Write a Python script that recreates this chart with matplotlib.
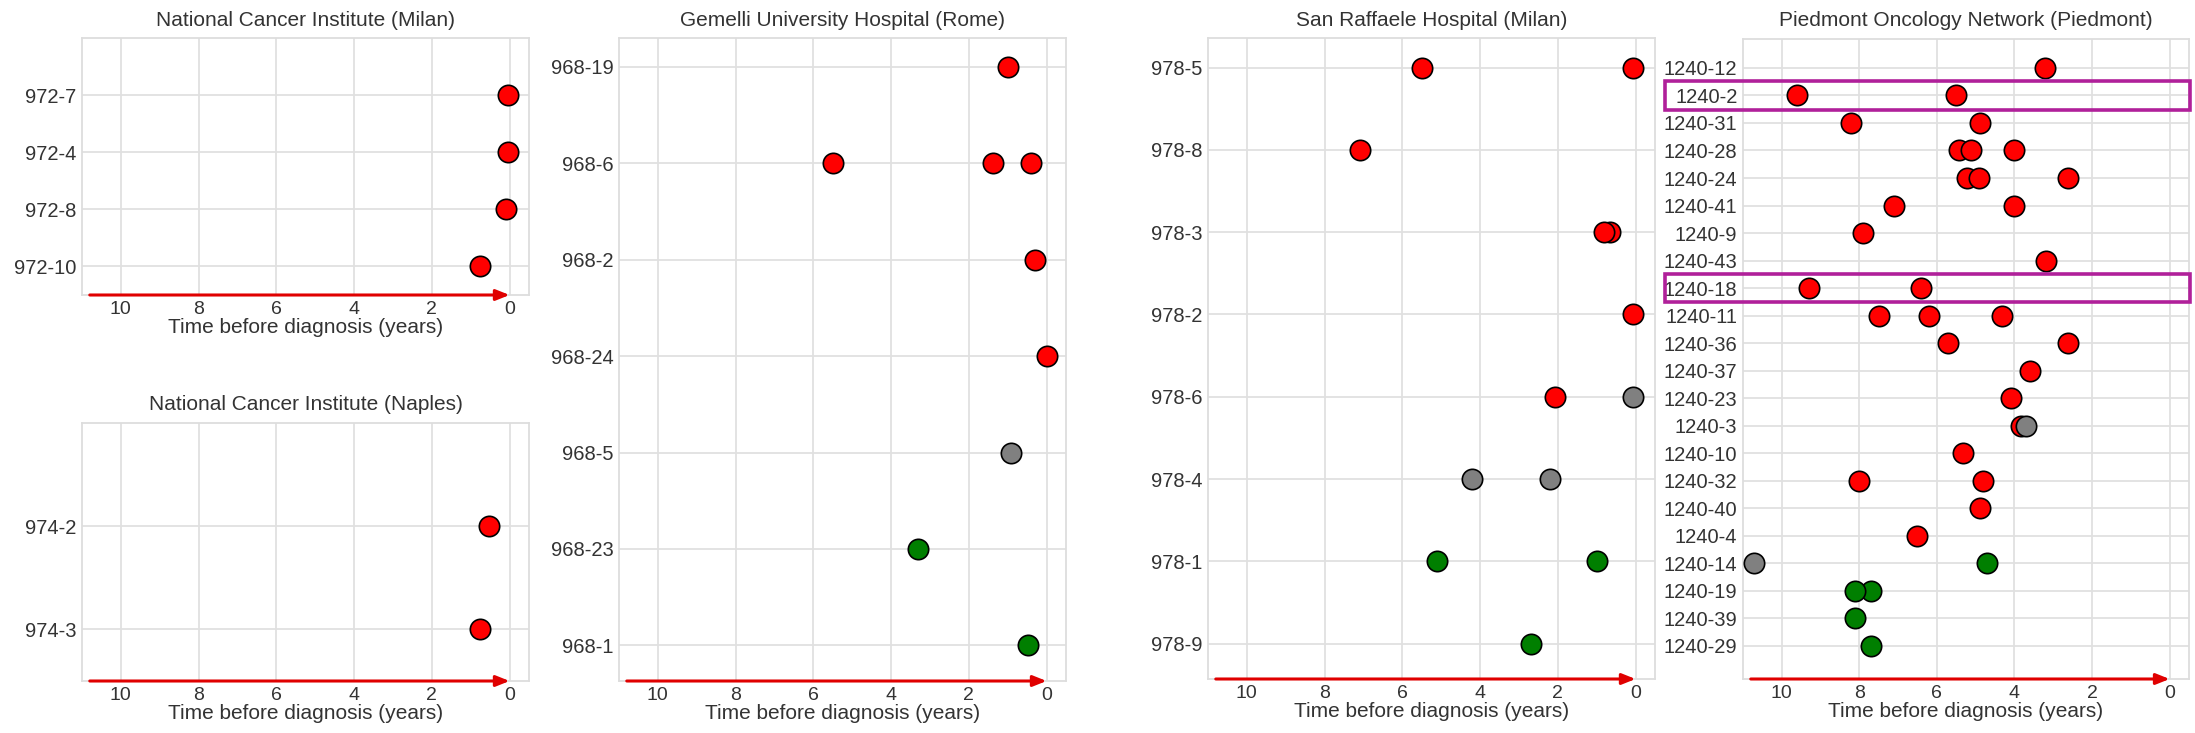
import matplotlib
matplotlib.use("Agg")
import matplotlib.pyplot as plt
from matplotlib.patches import Rectangle

plt.rcParams['font.family'] = ['Liberation Sans', 'DejaVu Sans']
plt.rcParams['text.color'] = '#333333'
plt.rcParams['xtick.color'] = '#333333'
plt.rcParams['ytick.color'] = '#333333'
plt.rcParams['axes.labelcolor'] = '#333333'

# patients listed top -> bottom, events as (patient, years before diagnosis, kind)
milan_ids = ['972-7', '972-4', '972-8', '972-10']
milan_ev_id = ['972-7', '972-4', '972-8', '972-10']
milan_ev_t = [0.03, 0.03, 0.1, 0.77]
milan_ev_k = ['r', 'r', 'r', 'r']

naples_ids = ['974-2', '974-3']
naples_ev_id = ['974-2', '974-3']
naples_ev_t = [0.52, 0.75]
naples_ev_k = ['r', 'r']

rome_ids = ['968-19', '968-6', '968-2', '968-24', '968-5', '968-23', '968-1']
rome_ev_id = ['968-19', '968-6', '968-6', '968-6', '968-2', '968-24', '968-5', '968-23', '968-1']
rome_ev_t = [1.0, 5.5, 1.38, 0.4, 0.31, 0.0, 0.91, 3.3, 0.49]
rome_ev_k = ['r', 'r', 'r', 'r', 'r', 'r', 'k', 'g', 'g']

sr_ids = ['978-5', '978-8', '978-3', '978-2', '978-6', '978-4', '978-1', '978-9']
sr_ev_id = ['978-5', '978-5', '978-8', '978-3', '978-3', '978-2', '978-6', '978-6',
            '978-4', '978-4', '978-1', '978-1', '978-9']
sr_ev_t = [5.49, 0.06, 7.1, 0.67, 0.82, 0.06, 2.08, 0.06, 4.2, 2.19, 5.1, 0.99, 2.68]
sr_ev_k = ['r', 'r', 'r', 'r', 'r', 'r', 'r', 'k', 'k', 'k', 'g', 'g', 'g']

pied_ids = ['1240-12', '1240-2', '1240-31', '1240-28', '1240-24', '1240-41', '1240-9',
            '1240-43', '1240-18', '1240-11', '1240-36', '1240-37', '1240-23', '1240-3',
            '1240-10', '1240-32', '1240-40', '1240-4', '1240-14', '1240-19', '1240-39',
            '1240-29']
pied_ev_id = ['1240-12', '1240-2', '1240-2', '1240-31', '1240-31',
              '1240-28', '1240-28', '1240-28', '1240-24', '1240-24', '1240-24',
              '1240-41', '1240-41', '1240-9', '1240-43', '1240-18', '1240-18',
              '1240-11', '1240-11', '1240-11', '1240-36', '1240-36', '1240-37',
              '1240-23', '1240-3', '1240-3', '1240-10', '1240-32', '1240-32',
              '1240-40', '1240-4', '1240-14', '1240-14', '1240-19', '1240-19',
              '1240-39', '1240-29']
pied_ev_t = [3.21, 9.61, 5.5, 8.21, 4.9,
             5.43, 5.12, 4.0, 5.22, 4.91, 2.61,
             7.11, 4.0, 7.91, 3.2, 9.31, 6.41,
             7.5, 6.21, 4.31, 5.71, 2.61, 3.61,
             4.1, 3.83, 3.7, 5.32, 8.0, 4.81,
             4.9, 6.51, 10.71, 4.7, 7.69, 8.11,
             8.11, 7.69]
pied_ev_k = ['r', 'r', 'r', 'r', 'r',
             'r', 'r', 'r', 'r', 'r', 'r',
             'r', 'r', 'r', 'r', 'r', 'r',
             'r', 'r', 'r', 'r', 'r', 'r',
             'r', 'r', 'k', 'r', 'r', 'r',
             'r', 'r', 'k', 'g', 'g', 'g',
             'g', 'g']
pied_boxed = ['1240-2', '1240-18']

colours = {'r': '#ff0000', 'k': '#808080', 'g': '#007f00'}
W, H = 2195, 733


def make_axes(fig, l, t, r, b):
    return fig.add_axes([l / W, 1 - b / H, (r - l) / W, (b - t) / H])


def panel(ax, title, ids, ev_id, ev_t, ev_k, ylim):
    n = len(ids)
    pos = {p: n - 1 - i for i, p in enumerate(ids)}
    for p, t, k in zip(ev_id, ev_t, ev_k):
        ax.scatter(t, pos[p], s=215, c=colours[k], edgecolors='black',
                   linewidths=1.2, zorder=3)
    ax.set_xlim(11, -0.5)
    ax.set_ylim(*ylim)
    ax.set_xticks([0, 2, 4, 6, 8, 10])
    ax.set_yticks(range(n))
    ax.set_yticklabels(ids[::-1])
    ax.tick_params(axis='y', length=0, pad=4, labelsize=14.5)
    ax.tick_params(axis='x', length=0, pad=4, labelsize=14)
    ax.grid(True, color='#e0e0e0', lw=1.3)
    ax.set_axisbelow(True)
    for s in ax.spines.values():
        s.set_color('#dddddd')
        s.set_linewidth(1.3)
    ax.set_title(title, fontsize=15, pad=9)
    ax.set_xlabel('Time before diagnosis (years)', fontsize=15, labelpad=0)
    ax.annotate('', xy=(0, 0), xycoords=ax.get_xaxis_transform(),
                xytext=(10.8, 0), textcoords=ax.get_xaxis_transform(),
                arrowprops=dict(arrowstyle='-|>,head_length=0.8,head_width=0.32',
                                color='#e00000', lw=2.2, shrinkA=0, shrinkB=0),
                annotation_clip=False, zorder=5)
    return pos


fig = plt.figure(figsize=(W / 100, H / 100), dpi=100)

ax1 = make_axes(fig, 82, 38, 529, 295)
panel(ax1, 'National Cancer Institute (Milan)', milan_ids, milan_ev_id, milan_ev_t,
      milan_ev_k, (-0.5, 4.0))

ax2 = make_axes(fig, 82, 423, 529, 681)
panel(ax2, 'National Cancer Institute (Naples)', naples_ids, naples_ev_id, naples_ev_t,
      naples_ev_k, (-0.5, 2.0))

ax3 = make_axes(fig, 619, 38, 1066, 681)
panel(ax3, 'Gemelli University Hospital (Rome)', rome_ids, rome_ev_id, rome_ev_t,
      rome_ev_k, (-0.37, 6.3))

ax4 = make_axes(fig, 1208, 38, 1655, 679)
panel(ax4, 'San Raffaele Hospital (Milan)', sr_ids, sr_ev_id, sr_ev_t,
      sr_ev_k, (-0.43, 7.36))

ax5 = make_axes(fig, 1743, 39, 2189, 679)
pos5 = panel(ax5, 'Piedmont Oncology Network (Piedmont)', pied_ids, pied_ev_id,
             pied_ev_t, pied_ev_k, (-1.2, 22.05))

for p in pied_boxed:
    ax5.add_patch(Rectangle((-0.175, pos5[p] - 0.52), 1.177, 1.04,
                            transform=ax5.get_yaxis_transform(), fill=False,
                            ec='#b0209a', lw=2.6, clip_on=False, zorder=6))

fig.savefig('out.png', dpi=100)
